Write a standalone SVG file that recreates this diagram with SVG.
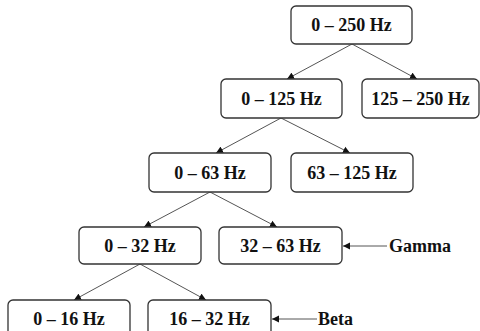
<svg xmlns="http://www.w3.org/2000/svg" width="480" height="331" viewBox="0 0 480 331">
<style>
.box{fill:#fff;stroke:#333;stroke-width:1.3}
.t{font-family:"Liberation Serif","Times New Roman",serif;font-weight:bold;font-size:18px;fill:#111;text-anchor:middle}
.lbl{font-family:"Liberation Serif","Times New Roman",serif;font-weight:bold;font-size:18px;fill:#111}
.c{stroke:#555;stroke-width:1;fill:none;marker-end:url(#ah)}
</style>
<defs>
<marker id="ah" markerUnits="userSpaceOnUse" markerWidth="8" markerHeight="8" refX="7" refY="4" orient="auto">
<path d="M0,0.5 L7,4 L0,7.5 Z" fill="#111"/>
</marker>
</defs>
<rect width="480" height="331" fill="#fff"/>
<g id="connectors">
<line class="c" x1="352" y1="44" x2="287" y2="79"/>
<line class="c" x1="352" y1="44" x2="417" y2="79"/>
<line class="c" x1="281" y1="118" x2="216" y2="153"/>
<line class="c" x1="281" y1="118" x2="350" y2="153"/>
<line class="c" x1="210" y1="192" x2="144" y2="227"/>
<line class="c" x1="210" y1="192" x2="277" y2="227"/>
<line class="c" x1="140" y1="264" x2="74" y2="300"/>
<line class="c" x1="140" y1="264" x2="206" y2="300"/>
<line class="c" x1="387" y1="246" x2="343" y2="246"/>
<line class="c" x1="317" y1="319" x2="272" y2="319"/>
</g>
<g id="n0_250"><rect class="box" x="291" y="6" width="121" height="38" rx="5"/><text class="t" x="351.5" y="31">0 – 250 Hz</text></g>
<g id="n0_125"><rect class="box" x="221" y="79" width="121" height="39" rx="5"/><text class="t" x="281.5" y="105">0 – 125 Hz</text></g>
<g id="n125_250"><rect class="box" x="362" y="79" width="117" height="39" rx="5"/><text class="t" x="420.5" y="105">125 – 250 Hz</text></g>
<g id="n0_63"><rect class="box" x="149" y="153" width="122" height="39" rx="5"/><text class="t" x="210" y="179">0 – 63 Hz</text></g>
<g id="n63_125"><rect class="box" x="291" y="153" width="122" height="39" rx="5"/><text class="t" x="352" y="179">63 – 125 Hz</text></g>
<g id="n0_32"><rect class="box" x="79" y="227" width="122" height="37" rx="5"/><text class="t" x="140" y="252">0 – 32 Hz</text></g>
<g id="n32_63"><rect class="box" x="219" y="227" width="123" height="37" rx="5"/><text class="t" x="280.5" y="252">32 – 63 Hz</text></g>
<g id="n0_16"><rect class="box" x="8" y="300" width="122" height="38" rx="5"/><text class="t" x="69" y="325">0 – 16 Hz</text></g>
<g id="n16_32"><rect class="box" x="148" y="300" width="123" height="38" rx="5"/><text class="t" x="209.5" y="325">16 – 32 Hz</text></g>
<g id="gamma"><text class="lbl" x="389" y="252">Gamma</text></g>
<g id="beta"><text class="lbl" x="318" y="325">Beta</text></g>
</svg>
